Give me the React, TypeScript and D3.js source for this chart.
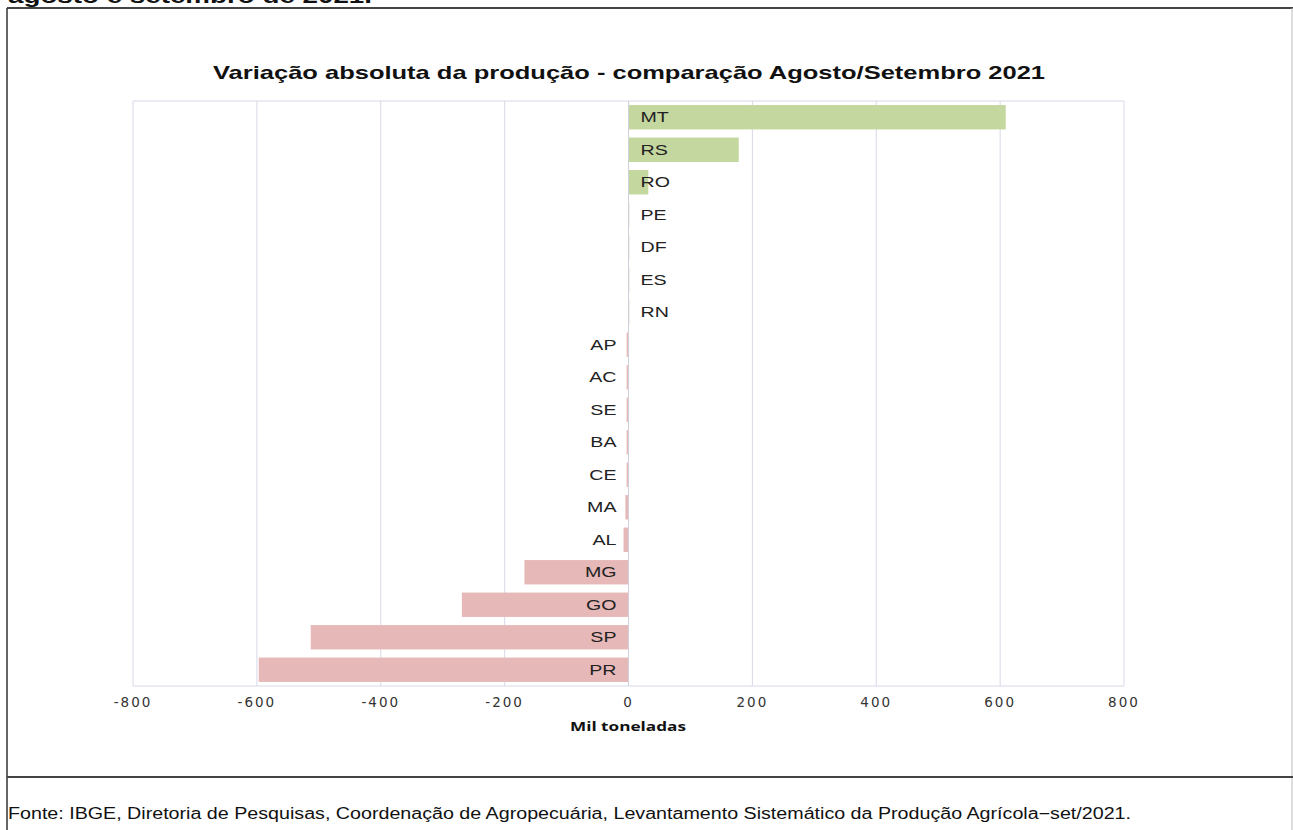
import React from "react";
import * as d3 from "d3";

const categories = ["MT","RS","RO","PE","DF","ES","RN","AP","AC","SE","BA","CE","MA","AL","MG","GO","SP","PR"];
const values = [609, 178, 32, 1, 1, 1, 1, -3, -3, -3, -3, -3, -5, -8, -168, -269, -513, -597];
const ticks = [-800, -600, -400, -200, 0, 200, 400, 600, 800];

const W = 1293, H = 830;
const M = { left: 133, right: 1124, top: 101, bottom: 686 };

export default function App() {
  const x = d3.scaleLinear().domain([-800, 800]).range([M.left, M.right]);
  const y = d3.scaleBand<string>().domain(categories).range([M.top, M.bottom]).paddingInner(0.25).paddingOuter(0.125);
  const x0 = x(0);
  return (
    <svg width={W} height={H} style={{ position: "absolute", left: 0, top: 0, background: "#fff" }}>
      <rect x={0} y={0} width={W} height={H} fill="#fff" />
      <text x={8} y={3} fontFamily="Liberation Sans, Arial" fontWeight="bold" fontSize={20} fill="#111" textLength={364} lengthAdjust="spacingAndGlyphs">agosto e setembro de 2021.</text>
      <line x1={7} x2={W} y1={8} y2={8} stroke="#444" strokeWidth={2} />
      <line x1={7} x2={7} y1={8} y2={H} stroke="#333" strokeWidth={1.5} />
      <line x1={1292} x2={1292} y1={8} y2={H} stroke="#bbb" strokeWidth={1} />
      <line x1={7} x2={W} y1={777} y2={777} stroke="#444" strokeWidth={2} />
      <text x={213} y={79} fontFamily="Liberation Sans, Arial" fontWeight="bold" fontSize={19} fill="#111" textLength={832} lengthAdjust="spacingAndGlyphs">Variação absoluta da produção - comparação Agosto/Setembro 2021</text>
      {ticks.map(t => (
        <line key={t} x1={x(t)} x2={x(t)} y1={M.top} y2={M.bottom} stroke="#d8d8ea" strokeWidth={1} />
      ))}
      <line x1={M.left} x2={M.right} y1={M.top} y2={M.top} stroke="#d8d8ea" />
      <line x1={M.left} x2={M.right} y1={M.bottom} y2={M.bottom} stroke="#d8d8ea" />
      {categories.map((c, i) => {
        const v = values[i];
        const yy = y(c)!;
        return (
          <rect key={c} x={Math.min(x(v), x0)} y={yy} width={Math.max(0.8, Math.abs(x(v) - x0))} height={y.bandwidth()}
            fill={v >= 0 ? "#c4d79e" : "#e6b8b7"} />
        );
      })}
      <line x1={x0} x2={x0} y1={M.top} y2={M.bottom} stroke="#d0d0dc" />
      {categories.map((c, i) => {
        const v = values[i];
        const yc = y(c)! + y.bandwidth() / 2;
        const tx = v >= 0 ? x0 + 12 : x0 - 12;
        return (
          <text key={c} transform={`translate(${tx},${yc + 5}) scale(1.4,1)`} textAnchor={v >= 0 ? "start" : "end"}
            fontFamily="Liberation Sans, Arial" fontSize={14} fill="#222">{c}</text>
        );
      })}
      {ticks.map(t => (
        <text key={t} x={x(t)} y={707} textAnchor="middle" fontFamily="DejaVu Sans, Verdana" fontSize={13.5} letterSpacing={2} fill="#333">{t}</text>
      ))}
      <text x={570} y={731} fontFamily="Open Sans, Liberation Sans" fontWeight="bold" fontSize={12} fill="#111" textLength={116} lengthAdjust="spacingAndGlyphs">Mil toneladas</text>
      <text x={8} y={819} fontFamily="Liberation Sans Narrow, Liberation Sans, Arial" fontSize={16} fill="#111" textLength={1123} lengthAdjust="spacingAndGlyphs">Fonte: IBGE, Diretoria de Pesquisas, Coordenação de Agropecuária, Levantamento Sistemático da Produção Agrícola−set/2021.</text>
    </svg>
  );
}
